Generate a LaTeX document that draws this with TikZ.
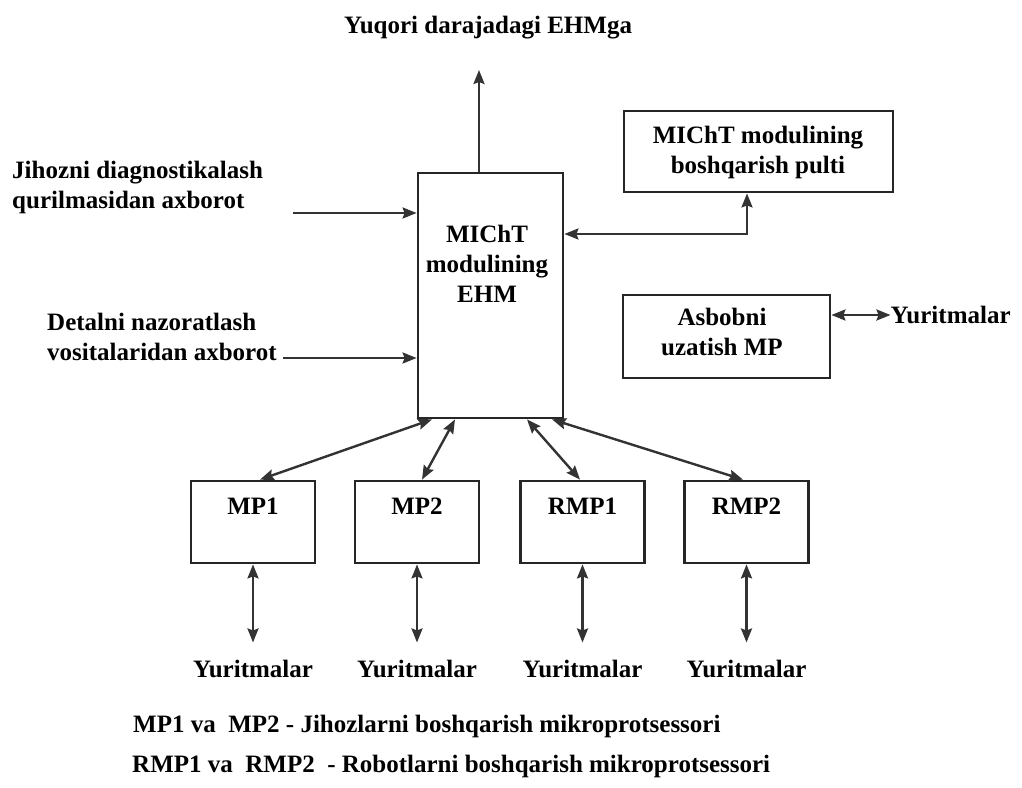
\documentclass[tikz,border=0pt]{standalone}
\usepackage{fontspec}
\setmainfont{Liberation Serif}[BoldFont={Liberation Serif Bold}]
\usetikzlibrary{arrows.meta}
\tikzset{>={Stealth[length=14pt,width=11pt,inset=2pt]}}
\tikzset{blok/.style={draw=black!85, line width=2.8pt, inner sep=0pt},
  strelka/.style={draw=black!80, line width=2.4pt},
  yoz/.style={font=\bfseries\fontsize{25}{30}\selectfont, inner sep=0pt, align=center}}

\begin{document}
\begin{tikzpicture}[x=1pt, y=-1pt]
\useasboundingbox (0,0) rectangle (1022,787);
\node[blok, minimum width=145, minimum height=245] (ehm) at (490.5,295.5) {};
\node[yoz, anchor=north] (ehmt) at (487,225) {MIChT\\modulining\\EHM};
\node[blok, minimum width=269, minimum height=81] (pulti) at (758.5,151.5) {};
\node[yoz, anchor=north] (pultit) at (758,126) {MIChT modulining\\boshqarish pulti};
\node[blok, minimum width=207, minimum height=83] (asbob) at (726.5,336.5) {};
\node[yoz, anchor=north] (asbobt) at (722,308) {Asbobni\\uzatish MP};
\node[yoz, anchor=west] (yur5) at (890.5,315) {Yuritmalar};
\draw[strelka,<->] (asbob.east |- yur5) -- (yur5.west);

\node[yoz, anchor=base] (yuq) at (488,33) {Yuqori darajadagi EHMga};
\coordinate (uch) at (479,70);
\draw[strelka,->] (uch |- ehm.north) -- (uch);
\coordinate (p) at (747,234);
\draw[strelka,<->] (ehm.east |- p) -- (p) -- (p |- pulti.south);

\node[yoz, anchor=north west, align=left] (kir1) at (12,161) {Jihozni diagnostikalash\\qurilmasidan axborot};
\node[yoz, anchor=north west, align=left] (kir2) at (47,313) {Detalni nazoratlash\\vositalaridan axborot};
\coordinate (k1) at (293,213);
\coordinate (k2) at (283,358);
\draw[strelka,->] (k1) -- (k1 -| ehm.west);
\draw[strelka,->] (k2) -- (k2 -| ehm.west);

\foreach \b/\t/\x/\dx/\dm in {mp1/MP1/253/7/-58.5, mp2/MP2/417/5/-35.5, rmp1/RMP1/582.5/-2.5/36.5, rmp2/RMP2/746.5/-3.5/61.5} {
  \node[blok, minimum width=124, minimum height=82] (\b) at (\x,522) {};
  \node[yoz, anchor=base] (\b t) at (\x,514) {\t};
  \node[yoz, anchor=base] (\b y) at (\x,677) {Yuritmalar};
  \draw[strelka,<->] ([xshift=\dx pt]\b.north) -- ([xshift=\dm pt]ehm.south);
  \draw[strelka,<->,shorten >=17pt] (\b.south) -- (\b.south |- \b y.north);
}

\node[yoz, anchor=base west] (izoh1) at (133,732) {MP1 va\ \ MP2 - Jihozlarni boshqarish mikroprotsessori};
\node[yoz, anchor=base west] (izoh2) at (132,772) {RMP1 va\ \ RMP2 \ - Robotlarni boshqarish mikroprotsessori};
\end{tikzpicture}
\end{document}
